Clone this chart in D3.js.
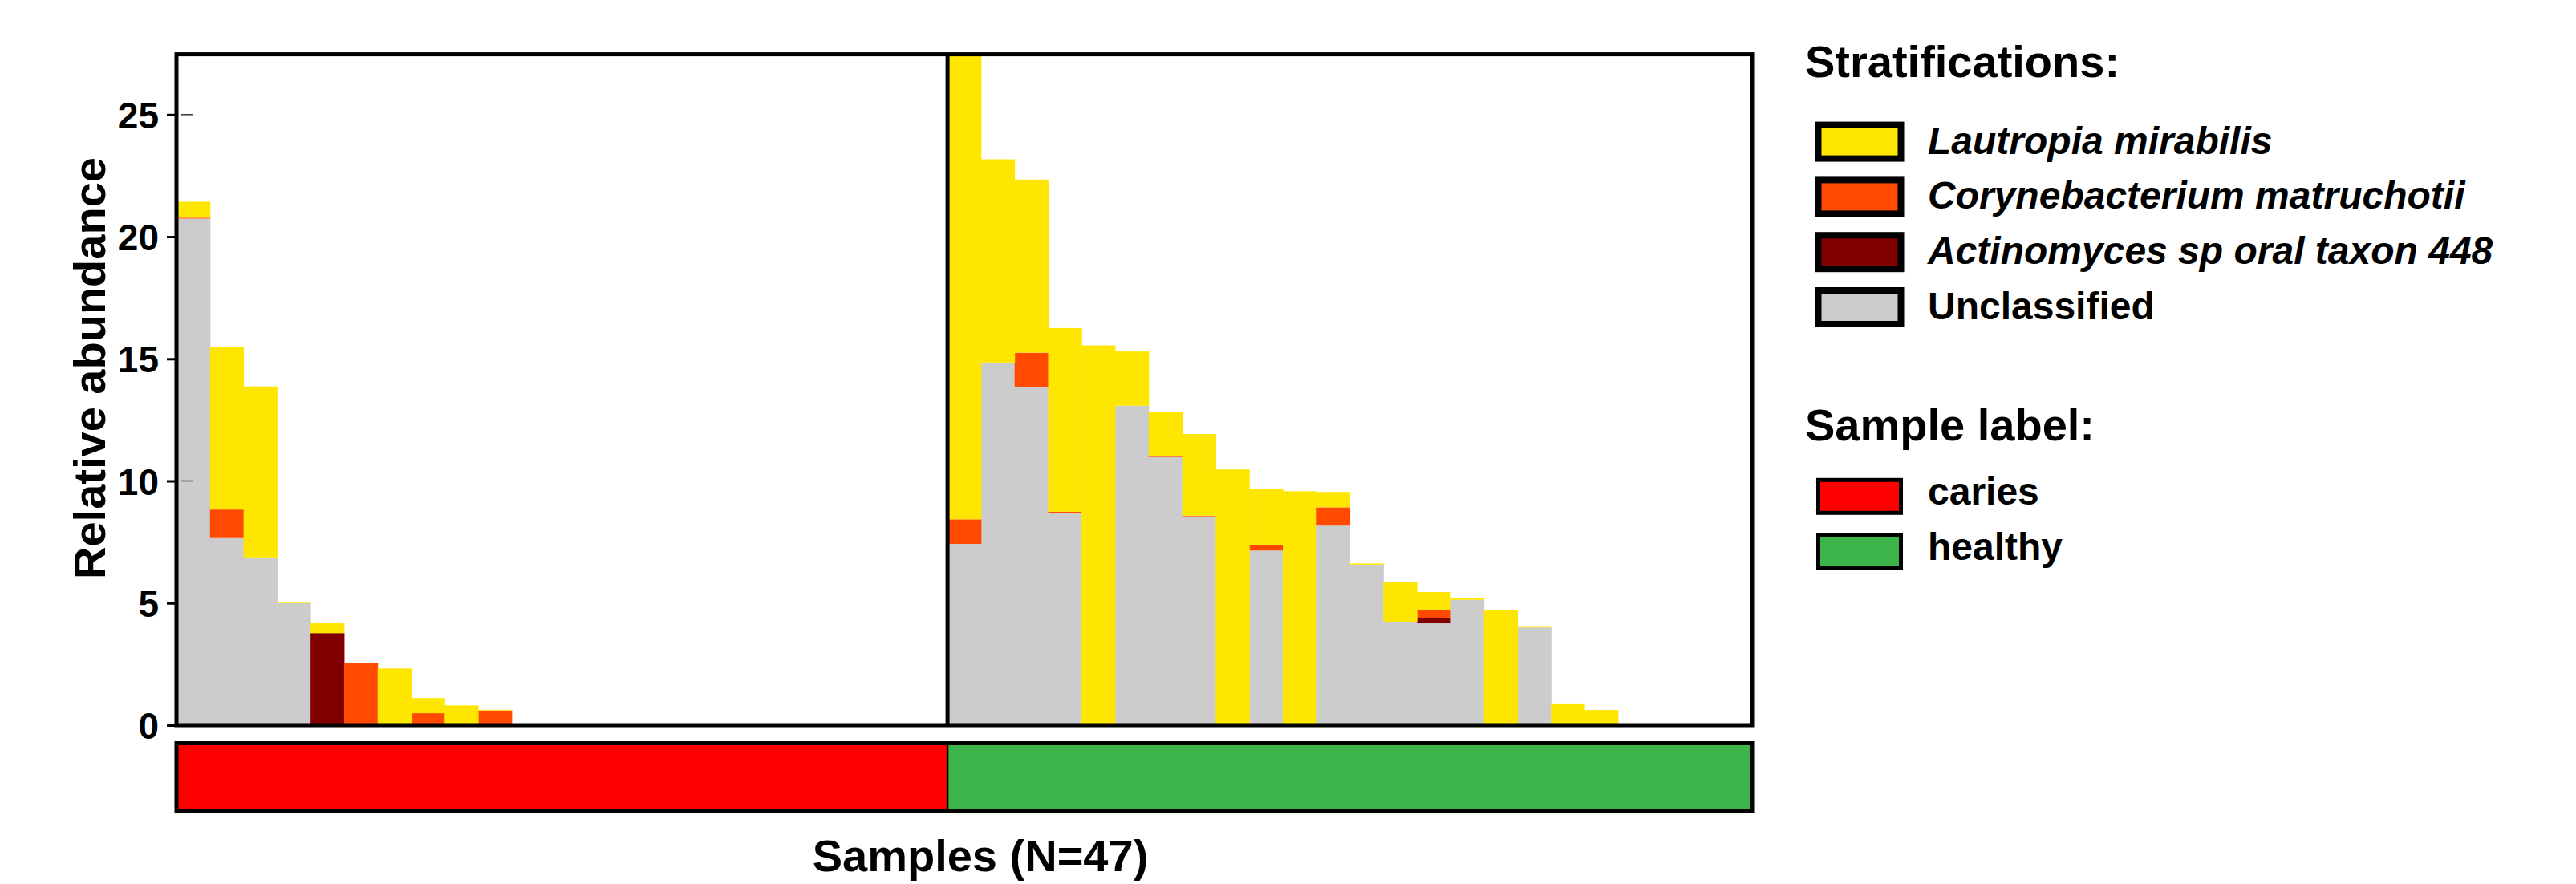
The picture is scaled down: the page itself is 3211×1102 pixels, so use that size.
<!DOCTYPE html>
<html>
<head>
<meta charset="utf-8">
<script src="https://cdn.jsdelivr.net/npm/d3@7"></script>
<style>
  body { margin: 0; background: #fff; }
  text { font-family: "Liberation Sans", Arial, sans-serif; font-weight: bold; }
</style>
</head>
<body>
<div id="plot"></div>
<script>
// 23 caries samples then 24 healthy samples (N=47)
const groups = ["caries", "healthy"];
const groupSizes = [23, 24];
const groupColors = ["#ff0000", "#3bb54a"];

const taxa = ["Unclassified", "Actinomyces sp oral taxon 448", "Corynebacterium matruchotii", "Lautropia mirabilis"];
const taxaColors = ["#cccccc", "#800000", "#ff4a00", "#ffe600"];

const unclassified = [20.74, 7.66, 6.87, 5.00, 0, 0, 0, 0, 0, 0, 0, 0, 0, 0, 0, 0, 0, 0, 0, 0, 0, 0, 0,
  7.42, 14.85, 13.83, 8.70, 0, 13.08, 10.98, 8.55, 0, 7.15, 0, 8.17, 6.57, 4.21, 4.17, 5.13, 0, 4.00, 0, 0, 0, 0, 0, 0];
const actinomyces = [0, 0, 0, 0, 3.77, 0, 0, 0, 0, 0, 0, 0, 0, 0, 0, 0, 0, 0, 0, 0, 0, 0, 0,
  0, 0, 0, 0, 0, 0, 0, 0, 0, 0, 0, 0, 0, 0, 0.23, 0, 0, 0, 0, 0, 0, 0, 0, 0];
const corynebacterium = [0.04, 1.17, 0, 0, 0, 2.53, 0, 0.49, 0, 0.60, 0, 0, 0, 0, 0, 0, 0, 0, 0, 0, 0, 0, 0,
  1.01, 0, 1.42, 0.04, 0, 0, 0.04, 0.03, 0, 0.21, 0, 0.75, 0, 0, 0.30, 0, 0, 0, 0, 0, 0, 0, 0, 0];
const lautropia = [0.65, 6.64, 7.00, 0.04, 0.40, 0.03, 2.32, 0.62, 0.81, 0.03, 0, 0, 0, 0, 0, 0, 0, 0, 0, 0, 0, 0, 0,
  19.10, 8.32, 7.09, 7.52, 15.55, 2.22, 1.79, 3.34, 10.47, 2.30, 9.58, 0.63, 0.05, 1.66, 0.75, 0.06, 4.70, 0.06, 0.89, 0.62, 0, 0, 0, 0];

const yTicks = [0, 5, 10, 15, 20, 25];
const yMax = 27.47;

const legendTaxa = ["Lautropia mirabilis", "Corynebacterium matruchotii", "Actinomyces sp oral taxon 448", "Unclassified"];
const legendTaxaColors = ["#ffe600", "#ff4a00", "#800000", "#cccccc"];

// build table for d3.stack
const table = unclassified.map((u, i) => ({
  idx: i,
  "Unclassified": u,
  "Actinomyces sp oral taxon 448": actinomyces[i],
  "Corynebacterium matruchotii": corynebacterium[i],
  "Lautropia mirabilis": lautropia[i]
}));

const width = 3211, height = 1102;
const plotLeft = 220, plotRight = 2184, plotTop = 67.6, plotBottom = 904;

const svg = d3.select("#plot").append("svg")
  .attr("width", width)
  .attr("height", height);

const x = d3.scaleBand()
  .domain(table.map(d => d.idx))
  .range([plotLeft, plotRight])
  .paddingInner(0).paddingOuter(0);

const y = d3.scaleLinear()
  .domain([0, yMax])
  .range([plotBottom, plotTop]);

svg.append("clipPath").attr("id", "plotClip")
  .append("rect")
  .attr("x", plotLeft).attr("y", plotTop)
  .attr("width", plotRight - plotLeft).attr("height", plotBottom - plotTop);

const series = d3.stack().keys(taxa)(table);
const color = d3.scaleOrdinal().domain(taxa).range(taxaColors);

svg.append("g")
  .attr("clip-path", "url(#plotClip)")
  .selectAll("g")
  .data(series)
  .join("g")
    .attr("fill", d => color(d.key))
  .selectAll("rect")
  .data(d => d.filter(s => s[1] - s[0] > 0))
  .join("rect")
    .attr("x", d => x(d.data.idx))
    .attr("y", d => y(d[1]))
    .attr("width", x.bandwidth() + 0.5)
    .attr("height", d => y(d[0]) - y(d[1]));

// small inner tick marks
svg.append("g")
  .selectAll("line")
  .data([25, 10])
  .join("line")
    .attr("x1", plotLeft + 6).attr("x2", plotLeft + 20)
    .attr("y1", d => y(d)).attr("y2", d => y(d))
    .attr("stroke", "#333").attr("stroke-width", 1.5);

// divider between groups
const splitX = x(groupSizes[0]);
svg.append("line")
  .attr("x1", splitX).attr("x2", splitX)
  .attr("y1", plotTop).attr("y2", plotBottom)
  .attr("stroke", "#000").attr("stroke-width", 5);

// frame
svg.append("rect")
  .attr("x", plotLeft).attr("y", plotTop)
  .attr("width", plotRight - plotLeft).attr("height", plotBottom - plotTop)
  .attr("fill", "none").attr("stroke", "#000").attr("stroke-width", 5);

// y axis
const yAxis = svg.append("g")
  .attr("transform", "translate(" + plotLeft + ",0)")
  .call(d3.axisLeft(y).tickValues(yTicks).tickSize(12).tickPadding(10));
yAxis.select(".domain").remove();
yAxis.selectAll(".tick line").attr("stroke", "#000").attr("stroke-width", 3);
yAxis.selectAll(".tick text")
  .attr("font-size", 46)
  .attr("font-family", "Liberation Sans, Arial, sans-serif")
  .attr("font-weight", "bold")
  .attr("fill", "#000")
  .attr("dy", "0.36em");

svg.append("text")
  .attr("transform", "translate(131,459) rotate(-90)")
  .attr("text-anchor", "middle")
  .attr("font-size", 56)
  .text("Relative abundance");

// sample label bar
const barTop = 926.5, barBottom = 1011;
let start = 0;
groups.forEach((g, i) => {
  svg.append("rect")
    .attr("x", x(start))
    .attr("y", barTop)
    .attr("width", x.bandwidth() * groupSizes[i])
    .attr("height", barBottom - barTop)
    .attr("fill", groupColors[i]);
  start += groupSizes[i];
});
svg.append("line")
  .attr("x1", splitX).attr("x2", splitX)
  .attr("y1", barTop).attr("y2", barBottom)
  .attr("stroke", "#000").attr("stroke-width", 2.5);
svg.append("rect")
  .attr("x", plotLeft).attr("y", barTop)
  .attr("width", plotRight - plotLeft).attr("height", barBottom - barTop)
  .attr("fill", "none").attr("stroke", "#000").attr("stroke-width", 5);

svg.append("text")
  .attr("x", 1222).attr("y", 1086)
  .attr("text-anchor", "middle")
  .attr("font-size", 56)
  .text("Samples (N=47)");

// legends
const lg = svg.append("g");
lg.append("text").attr("x", 2250).attr("y", 96).attr("font-size", 56).text("Stratifications:");

const stratRows = lg.selectAll("g.strat")
  .data(legendTaxa)
  .join("g")
    .attr("class", "strat")
    .attr("transform", (d, i) => "translate(0," + (151.6 + i * 68.8) + ")");
stratRows.append("rect")
  .attr("x", 2266.5).attr("y", 4)
  .attr("width", 103).attr("height", 42)
  .attr("fill", (d, i) => legendTaxaColors[i])
  .attr("stroke", "#000").attr("stroke-width", 8);
stratRows.append("text")
  .attr("x", 2403).attr("y", 40)
  .attr("font-size", 48)
  .attr("font-style", (d, i) => i < 3 ? "italic" : "normal")
  .text(d => d);

lg.append("text").attr("x", 2250).attr("y", 549).attr("font-size", 56).text("Sample label:");

const sampleRows = lg.selectAll("g.samp")
  .data(groups)
  .join("g")
    .attr("class", "samp")
    .attr("transform", (d, i) => "translate(0," + (595.8 + i * 69) + ")");
sampleRows.append("rect")
  .attr("x", 2266.5).attr("y", 2.5)
  .attr("width", 103).attr("height", 41)
  .attr("fill", (d, i) => groupColors[i])
  .attr("stroke", "#000").attr("stroke-width", 5);
sampleRows.append("text")
  .attr("x", 2403).attr("y", 33)
  .attr("font-size", 48)
  .text(d => d);
</script>
</body>
</html>
